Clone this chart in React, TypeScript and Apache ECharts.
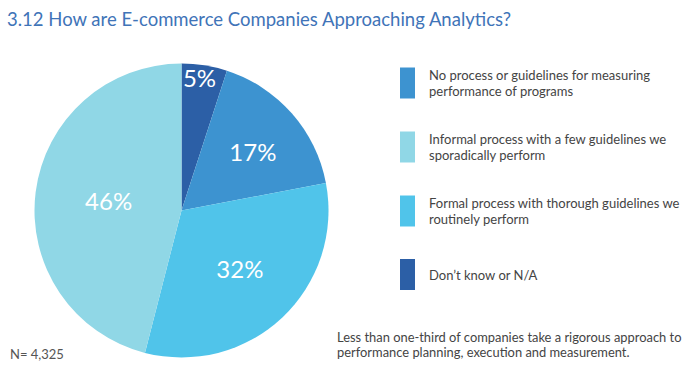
import React, { useEffect, useRef } from "react";
import * as echarts from "echarts";

const titleText = "3.12 How are E-commerce Companies Approaching Analytics?";
const categories = [
  "Don't know or N/A",
  "No process or guidelines for measuring performance of programs",
  "Formal process with thorough guidelines we routinely perform",
  "Informal process with a few guidelines we sporadically perform",
];
const values = [5, 17, 32, 46];
const legendOrder = [
  "No process or guidelines for measuring performance of programs",
  "Informal process with a few guidelines we sporadically perform",
  "Formal process with thorough guidelines we routinely perform",
  "Don't know or N/A",
];
const legendWrapped: Record<string, string> = {
  "No process or guidelines for measuring performance of programs":
    "No process or guidelines for measuring\nperformance of programs",
  "Informal process with a few guidelines we sporadically perform":
    "Informal process with a few guidelines we\nsporadically perform",
  "Formal process with thorough guidelines we routinely perform":
    "Formal process with thorough guidelines we\nroutinely perform",
  "Don't know or N/A": "Don\u2019t know or N/A",
};
const noteText =
  "Less than one-third of companies take a rigorous approach to\nperformance planning, execution and measurement.";
const sampleText = "N= 4,325";

const colors = ["#2c5fa6", "#3d93d0", "#50c4ea", "#90d7e6"];
const FONT = "Lato";

export default function App() {
  const ref = useRef<HTMLDivElement>(null);
  useEffect(() => {
    if (!ref.current) return;
    const chart = echarts.init(ref.current, undefined, { renderer: "svg" });
    const labelShift = [
      [6, -57],
      [14, -8],
      [6, 2],
      [3, 0],
    ];
    chart.setOption({
      animation: false,
      backgroundColor: "#ffffff",
      title: {
        text: titleText,
        left: 2,
        top: 4,
        textStyle: {
          fontFamily: FONT,
          fontSize: 18.5,
          fontWeight: "normal",
          color: "#3f74b8",
        },
      },
      legend: {
        orient: "vertical",
        left: 395,
        top: 62,
        itemWidth: 15,
        itemHeight: 31,
        itemGap: 32,
        icon: "rect",
        data: legendOrder,
        formatter: (name: string) => legendWrapped[name] || name,
        selectedMode: false,
        textStyle: {
          fontFamily: FONT,
          fontSize: 13,
          lineHeight: 16,
          color: "#444444",
          padding: [0, 0, 0, 9],
        },
      },
      graphic: [
        {
          type: "text",
          left: 337,
          top: 329,
          style: {
            text: noteText,
            fontFamily: FONT,
            fontSize: 12.9,
            lineHeight: 15.5,
            fill: "#444444",
          },
        },
        {
          type: "text",
          left: 10,
          top: 347,
          style: {
            text: sampleText,
            fontFamily: FONT,
            fontSize: 13,
            fill: "#555555",
          },
        },
      ],
      series: [
        {
          type: "pie",
          center: [181.5, 210.5],
          radius: [0, 147],
          startAngle: 90,
          clockwise: true,
          color: colors,
          label: {
            show: true,
            position: "inside",
            formatter: "{c}%",
            fontFamily: FONT,
            fontSize: 24,
            color: "#ffffff",
          },
          labelLine: { show: false },
          emphasis: { disabled: true },
          itemStyle: { borderWidth: 0 },
          labelLayout: (p: any) => ({
            dx: labelShift[p.dataIndex][0],
            dy: labelShift[p.dataIndex][1],
          }),
          data: categories.map((c, i) => ({ name: c, value: values[i] })),
        },
      ],
    });
    return () => chart.dispose();
  }, []);
  return (
    <div
      ref={ref}
      style={{ position: "fixed", left: 0, top: 0, width: 699, height: 384 }}
    />
  );
}
